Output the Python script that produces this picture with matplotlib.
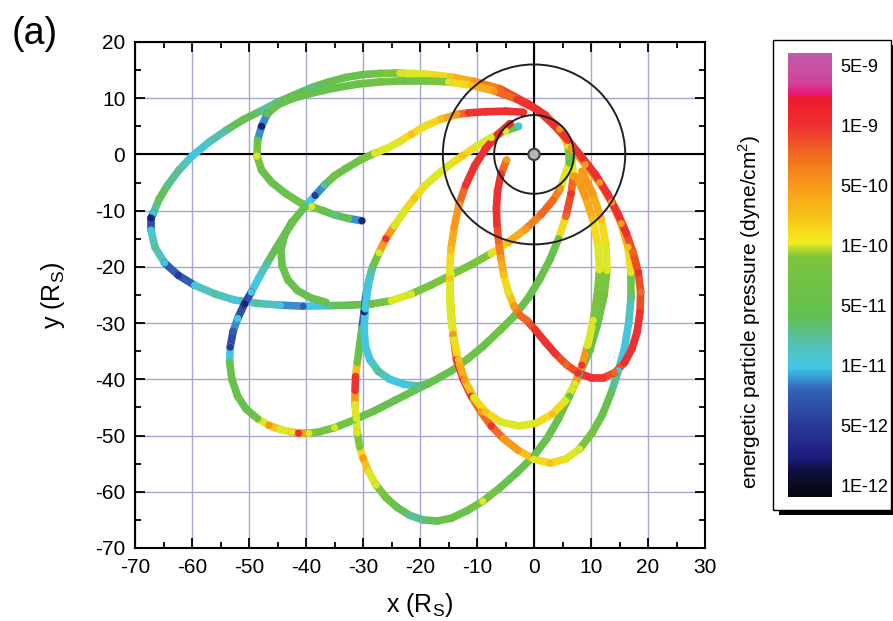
import matplotlib
matplotlib.use('Agg')
import matplotlib.pyplot as plt
import numpy as np
from matplotlib.collections import LineCollection
from matplotlib.colors import LinearSegmentedColormap, Normalize
from matplotlib.patches import Circle, Rectangle
from matplotlib.ticker import MultipleLocator

plt.rcParams['font.family'] = ['Liberation Sans', 'DejaVu Sans']
plt.rcParams['axes.unicode_minus'] = False

# colour bar labels, evenly spaced on the bar (level 0 .. 7)
cbar_labels = ['1E-12', '5E-12', '1E-11', '5E-11', '1E-10', '5E-10', '1E-9', '5E-9']

# orbit tracks: (x [Rs], y [Rs], pressure level on the bar)
track_outer = [
    (4.6, -6.1, 5), (6.2, -1.5, 3), (6.0, 1.5, 4), (4.5, 4.5, 5), (2.0, 7.0, 6),
    (-1.0, 9.0, 6), (-6.0, 11.7, 5.5), (-10.5, 13.0, 5), (-14.7, 13.8, 4.5),
    (-19.0, 14.3, 4), (-23.5, 14.5, 4), (-27.0, 14.4, 3.5), (-30.0, 14.2, 3),
    (-33.0, 13.7, 3), (-36.0, 12.9, 3), (-39.0, 11.9, 2.5), (-42.0, 10.6, 3),
    (-45.0, 9.3, 2.5), (-48.0, 7.7, 2.5), (-51.0, 6.2, 3), (-54.0, 4.3, 2.5),
    (-57.0, 2.2, 2.2), (-60.0, -0.3, 2), (-62.3, -2.8, 2.5), (-64.3, -5.5, 2.5),
    (-65.8, -8.0, 3), (-66.8, -10.5, 2), (-67.2, -11.3, 0.5), (-67.2, -13.5, 2),
    (-66.5, -16.5, 2.5), (-64.8, -19.3, 2), (-62.4, -21.5, 1), (-59.5, -23.3, 2),
    (-56.0, -24.8, 2.5), (-52.5, -25.9, 2), (-48.5, -26.5, 2.5), (-44.5, -26.8, 2),
    (-40.5, -27.0, 1.5), (-36.0, -26.9, 2.5), (-32.0, -26.8, 3), (-28.5, -26.6, 3),
    (-25.0, -26.0, 4), (-21.5, -24.8, 4), (-18.0, -23.2, 3.5), (-14.5, -21.4, 4),
    (-11.0, -19.6, 3.5), (-7.5, -17.6, 4), (-4.5, -15.6, 4.5), (-1.5, -13.3, 5),
    (1.3, -10.6, 5.5), (3.3, -8.2, 5.5), (4.6, -6.1, 5),
]

track_hook = [
    (0.5, 8.0, 6), (-3.0, 9.8, 6), (-7.0, 11.3, 5), (-11.0, 12.3, 4.5),
    (-15.0, 12.9, 4), (-19.0, 13.1, 3.5), (-23.0, 13.1, 3), (-27.0, 12.9, 3.5),
    (-31.0, 12.5, 3), (-35.0, 11.8, 3), (-39.0, 10.9, 3), (-42.5, 9.9, 3),
    (-45.0, 8.8, 3), (-46.8, 7.2, 3), (-47.8, 5.0, 0.5), (-48.5, 2.5, 3),
    (-48.6, -0.3, 4), (-47.8, -2.8, 3), (-46.0, -5.0, 3), (-43.5, -7.0, 3),
    (-41.0, -8.6, 3.5), (-39.0, -9.3, 4), (-37.0, -10.0, 3), (-34.9, -10.8, 2.5),
    (-32.5, -11.4, 3), (-30.2, -11.8, 0.5),
]

track_west = [
    (-1.9, 7.5, 6), (-5.0, 7.7, 6), (-8.5, 7.6, 6), (-11.5, 7.4, 6), (-13.6, 7.1, 5),
    (-16.5, 6.2, 4.5), (-19.2, 5.0, 4), (-21.5, 3.6, 4.5), (-23.7, 2.2, 4),
    (-26.0, 1.0, 4), (-28.0, 0.2, 4), (-30.5, -1.0, 3.5), (-33.0, -2.5, 3),
    (-35.0, -3.8, 3.5), (-36.8, -5.5, 2.5), (-38.4, -7.3, 1), (-40.2, -9.3, 3),
    (-41.9, -11.4, 3), (-43.5, -13.8, 3), (-45.2, -16.6, 3), (-46.8, -19.3, 2.5),
    (-48.3, -22.0, 2), (-49.6, -24.5, 2), (-50.8, -26.6, 0.5), (-52.0, -29.2, 2),
    (-52.8, -31.5, 1.5), (-53.3, -34.3, 1), (-53.4, -37.0, 3), (-53.0, -40.0, 3),
    (-52.0, -43.0, 3), (-50.5, -45.3, 3), (-48.5, -47.0, 3), (-46.5, -48.2, 5),
    (-44.5, -48.9, 4), (-42.5, -49.4, 4), (-41.3, -49.6, 6), (-39.5, -49.6, 4),
    (-37.5, -49.3, 3.5), (-35.0, -48.6, 4), (-31.5, -47.2, 3), (-28.0, -45.6, 3),
    (-24.5, -43.8, 3), (-21.0, -42.0, 3), (-17.7, -40.3, 3), (-14.5, -38.5, 3),
    (-11.8, -36.5, 3.5), (-9.0, -34.2, 3), (-6.0, -31.3, 3.5), (-3.5, -28.8, 3),
    (-1.0, -25.5, 3), (1.0, -22.2, 3), (2.8, -18.7, 3), (4.3, -15.0, 3),
    (5.6, -11.0, 5.5), (6.5, -7.0, 6), (6.9, -3.8, 5), (6.6, -0.5, 3),
]

track_south = [
    (-2.7, 5.0, 2), (-5.0, 4.2, 4), (-7.5, 3.0, 4), (-10.0, 1.5, 4), (-12.5, -0.2, 4.5),
    (-15.0, -2.0, 4), (-17.2, -3.8, 4), (-19.1, -5.5, 4), (-21.0, -7.8, 4.5),
    (-22.8, -10.2, 4), (-24.5, -12.7, 4), (-26.0, -15.0, 6), (-27.2, -17.5, 4),
    (-28.3, -20.0, 3), (-29.0, -22.5, 2), (-29.5, -25.0, 2), (-29.8, -28.0, 0.5),
    (-30.2, -31.0, 2.5), (-30.6, -34.0, 3), (-31.0, -37.0, 3), (-31.3, -39.5, 6),
    (-31.4, -42.0, 6), (-31.4, -44.5, 4), (-31.2, -47.0, 4), (-31.0, -49.5, 4),
    (-30.6, -52.0, 3.5), (-30.0, -54.0, 5), (-29.0, -56.5, 4), (-27.7, -58.8, 4),
    (-26.0, -61.0, 3.5), (-24.0, -62.8, 3), (-21.8, -64.2, 2.5), (-19.5, -65.0, 2.5),
    (-17.0, -65.2, 3), (-14.5, -64.7, 3), (-11.8, -63.4, 3), (-9.0, -61.7, 4),
    (-6.0, -59.3, 3), (-3.0, -56.6, 3), (0.0, -53.6, 3), (2.3, -50.5, 3),
    (4.3, -47.0, 3), (6.2, -43.0, 3), (8.0, -39.0, 2.5), (9.8, -34.8, 3),
    (11.2, -30.0, 3), (12.3, -25.0, 3.5), (12.8, -20.6, 4), (12.6, -16.0, 4),
    (11.8, -11.5, 4.5), (10.3, -7.0, 5), (8.4, -3.0, 5),
]

track_branch_cyan = [
    (-28.5, -20.5, 2.5), (-29.2, -24.0, 2), (-29.6, -27.5, 2), (-29.8, -31.0, 2),
    (-29.6, -34.0, 2), (-28.8, -36.5, 2), (-27.3, -38.6, 2.5), (-25.3, -40.0, 2),
    (-22.8, -40.9, 2), (-20.3, -41.2, 2.5), (-18.5, -40.8, 3),
]

track_branch_green = [
    (-42.5, -12.0, 3), (-43.8, -14.5, 3), (-44.4, -17.0, 3), (-44.2, -19.8, 3),
    (-43.2, -22.3, 3), (-41.5, -24.2, 3), (-39.2, -25.5, 3), (-36.5, -26.3, 3),
]

track_red_loop = [
    (-4.8, -1.0, 5), (-5.8, -3.5, 6), (-6.4, -6.5, 6), (-6.6, -9.5, 6), (-6.5, -12.5, 6),
    (-6.2, -15.5, 5.5), (-5.8, -18.5, 5), (-5.3, -21.5, 4.5), (-4.5, -24.5, 4),
    (-3.5, -27.0, 5), (-2.5, -28.6, 5.5), (-1.3, -29.5, 5.5), (0.2, -31.2, 6),
    (2.0, -33.4, 6), (3.8, -35.5, 6), (5.7, -37.4, 5.5), (7.8, -38.9, 6),
    (10.0, -39.7, 6), (12.2, -39.7, 6), (14.2, -38.8, 5.5), (15.9, -37.0, 6),
    (17.2, -34.5, 6), (18.1, -31.5, 6), (18.6, -28.0, 6), (18.7, -24.5, 5.5),
    (18.3, -21.0, 6), (17.4, -17.5, 5.5), (16.2, -14.0, 6), (14.7, -10.5, 6),
    (12.9, -7.0, 6), (10.8, -3.6, 6), (8.5, -0.6, 6), (6.0, 2.5, 6),
    (3.4, 5.3, 6), (0.5, 8.0, 6),
]

track_loop_mid = [
    (-4.2, 5.5, 6), (-6.3, 3.6, 6), (-8.5, 1.0, 6), (-10.4, -2.0, 6), (-12.0, -5.5, 6),
    (-13.2, -9.0, 5), (-14.0, -13.0, 5), (-14.6, -17.0, 4.5), (-14.8, -21.0, 4),
    (-14.8, -25.0, 4), (-14.6, -29.0, 4), (-14.0, -33.0, 4), (-13.3, -36.5, 4.5),
    (-12.2, -40.0, 5), (-10.6, -43.2, 4), (-8.5, -45.8, 4.5), (-5.8, -47.6, 4),
    (-2.6, -48.3, 4), (0.4, -47.8, 4), (3.2, -46.2, 4.5), (5.5, -43.8, 4),
    (7.2, -40.8, 4), (8.4, -37.5, 6), (9.4, -34.0, 4), (10.4, -29.5, 4),
    (11.1, -25.0, 3.5), (11.5, -20.5, 4), (11.2, -16.0, 4), (10.3, -11.5, 4.5),
    (9.0, -7.5, 5), (7.5, -4.0, 5),
]

track_loop_low = [
    (-14.8, -22.0, 4.5), (-14.6, -27.0, 4), (-14.2, -32.0, 5), (-13.6, -36.5, 6),
    (-12.4, -40.0, 6), (-11.0, -43.0, 6), (-9.3, -45.8, 5), (-7.5, -48.3, 6),
    (-5.3, -50.6, 5), (-2.8, -52.6, 5), (0.0, -54.2, 4), (2.8, -54.9, 4.5),
    (5.5, -54.2, 4), (8.0, -52.4, 4), (10.2, -49.5, 3.5), (12.0, -46.3, 3),
    (13.5, -42.5, 3), (14.8, -38.5, 2), (15.9, -34.3, 2), (16.6, -30.0, 2),
    (17.0, -25.5, 2.5), (17.0, -21.0, 4), (16.5, -16.5, 4.5), (15.3, -12.3, 5),
    (13.6, -8.5, 5), (11.5, -5.0, 5), (9.0, -1.8, 5), (6.5, 1.2, 5),
]

tracks = [track_outer, track_hook, track_west, track_branch_green, track_south,
          track_branch_cyan, track_loop_low, track_loop_mid, track_red_loop]

# colour scale of the bar
cmap_stops = [
    (-0.2, '#05050c'), (0.25, '#101040'), (0.4, '#1c1a78'), (1.0, '#2a3a9a'),
    (1.6, '#3264b8'), (1.95, '#40c8e8'), (2.4, '#58c0a8'), (2.8, '#62c050'),
    (3.8, '#7cc43c'), (4.05, '#f0ee20'), (4.4, '#f8c818'), (5.0, '#f89a18'),
    (5.5, '#f06a20'), (6.0, '#ee3030'), (6.45, '#ec1c2c'), (6.55, '#e8187c'),
    (6.7, '#d0449a'), (7.2, '#c05aa8'),
]
lev_min, lev_max = -0.2, 7.2
cmap = LinearSegmentedColormap.from_list(
    'pressure', [((v - lev_min) / (lev_max - lev_min), c) for v, c in cmap_stops])
norm = Normalize(lev_min, lev_max)

fig = plt.figure(figsize=(8.93, 6.21), dpi=100)
ax = fig.add_axes([0.1512, 0.1176, 0.6383, 0.8148])

ax.set_xlim(-70, 30)
ax.set_ylim(-70, 20)
ax.xaxis.set_major_locator(MultipleLocator(10))
ax.xaxis.set_minor_locator(MultipleLocator(5))
ax.yaxis.set_major_locator(MultipleLocator(10))
ax.yaxis.set_minor_locator(MultipleLocator(5))
ax.grid(True, which='major', color='#a6a6d6', linewidth=1.0, zorder=0)
ax.set_axisbelow(True)
ax.tick_params(which='both', direction='in', top=True, right=True,
               width=1.3, labelsize=15, pad=7)
ax.tick_params(which='major', length=7)
ax.tick_params(which='minor', length=4)
for spine in ax.spines.values():
    spine.set_linewidth(1.5)

ax.axhline(0, color='black', linewidth=1.5, zorder=1)
ax.axvline(0, color='black', linewidth=1.5, zorder=1)

for tr in tracks:
    pts = np.array(tr, dtype=float)
    segs = np.stack([pts[:-1, :2], pts[1:, :2]], axis=1)
    seg_lev = (pts[:-1, 2] + pts[1:, 2]) / 2
    lc = LineCollection(segs, colors=cmap(norm(seg_lev)), linewidths=5.5,
                        capstyle='round', zorder=3)
    ax.add_collection(lc)
    ax.scatter(pts[:, 0], pts[:, 1], c=pts[:, 2], cmap=cmap, norm=norm,
               s=26, linewidths=0, zorder=4)

for r in (16, 7):
    ax.add_patch(Circle((0, 0), r, fill=False, edgecolor='#202020',
                        linewidth=1.4, zorder=5))
ax.add_patch(Circle((0, 0), 1.0, facecolor='#b4b4b4', edgecolor='#404040',
                    linewidth=1.5, zorder=6))

ax.set_xlabel('x (R$_\\mathregular{S}$)', fontsize=18, labelpad=10)
ax.set_ylabel('y (R$_\\mathregular{S}$)', fontsize=18, labelpad=20)
fig.text(0.013, 0.945, '(a)', fontsize=27, ha='left', va='center')

# colour bar inside a framed box with a drop shadow
W, H = 893.0, 621.0
fig.patches.append(Rectangle((779 / W, 1 - 515 / H), 114 / W, 470 / H,
                             transform=fig.transFigure, facecolor='black',
                             edgecolor='none', zorder=-3))
fig.patches.append(Rectangle((773 / W, 1 - 510 / H), 118 / W, 470 / H,
                             transform=fig.transFigure, facecolor='white',
                             edgecolor='black', linewidth=1.0, zorder=-2))
cax = fig.add_axes([788 / W, 1 - 497 / H, 44 / W, 444 / H])
sm = plt.cm.ScalarMappable(norm=norm, cmap=cmap)
cb = fig.colorbar(sm, cax=cax, ticks=range(len(cbar_labels)))
cb.set_ticklabels(cbar_labels)
cb.outline.set_visible(False)
cax.tick_params(length=0, labelsize=13, pad=6)
fig.text(750 / W, 1 - 312 / H, 'energetic particle pressure (dyne/cm$^\\mathregular{2}$)',
         rotation=90, fontsize=15, ha='center', va='center')

fig.savefig('out.png', dpi=100)
